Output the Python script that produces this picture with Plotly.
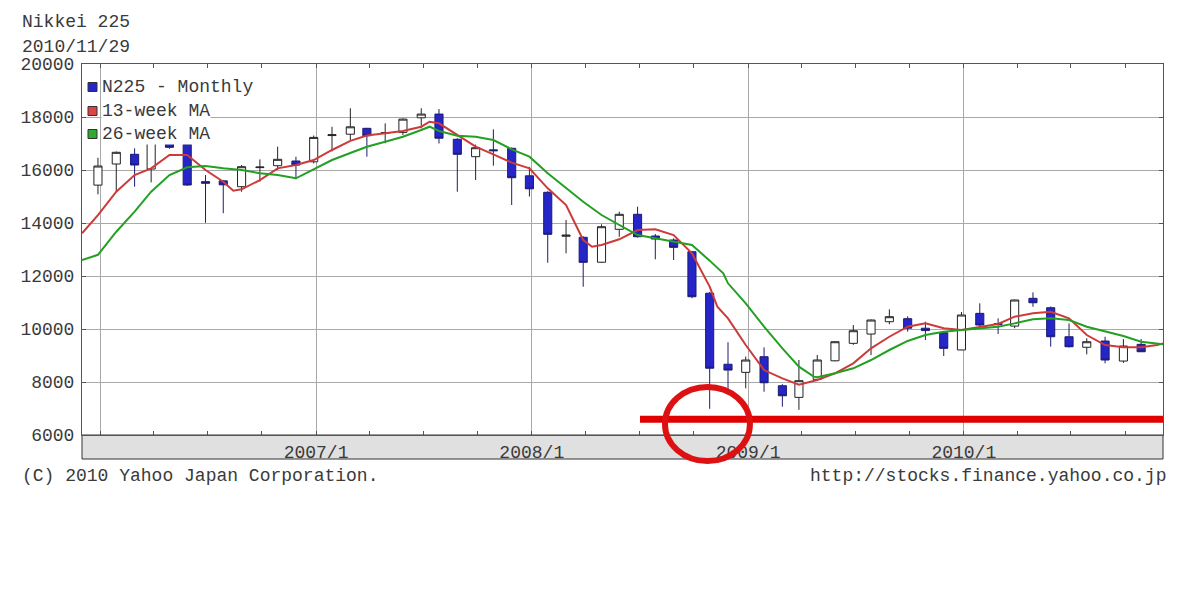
import plotly.graph_objects as go

# ---------------- data ----------------
candle_months = [
    "2005-12", "2006-01", "2006-02", "2006-03", "2006-04", "2006-05", "2006-06", "2006-07",
    "2006-08", "2006-09", "2006-10", "2006-11", "2006-12", "2007-01", "2007-02", "2007-03",
    "2007-04", "2007-05", "2007-06", "2007-07", "2007-08", "2007-09", "2007-10", "2007-11",
    "2007-12", "2008-01", "2008-02", "2008-03", "2008-04", "2008-05", "2008-06", "2008-07",
    "2008-08", "2008-09", "2008-10", "2008-11", "2008-12", "2009-01", "2009-02", "2009-03",
    "2009-04", "2009-05", "2009-06", "2009-07", "2009-08", "2009-09", "2009-10", "2009-11",
    "2009-12", "2010-01", "2010-02", "2010-03", "2010-04", "2010-05", "2010-06", "2010-07",
    "2010-08", "2010-09", "2010-10",
]
open_ = [15430, 16226, 16592, 16037, 17068, 16969, 15560, 15590,
         15370, 16090, 16162, 16339, 16310, 17300, 17350, 17573,
         17390, 17420, 17970, 18110, 17158, 16502, 16760, 16818,
         15780, 15158, 13500, 13460, 12520, 13762, 14328, 13509,
         13358, 12916, 11350, 8670, 8364, 8954, 7859, 7420,
         8100, 8800, 9459, 9810, 10275, 10390, 10030, 9860,
         9210, 10590, 10200, 10110, 11157, 10803, 9708, 9310,
         9546, 8791, 9421]
high = [16460, 16700, 16818, 17100, 17160, 17010, 15810, 15620,
        16190, 16400, 16880, 16500, 17300, 17630, 18330, 17590,
        17760, 17950, 18330, 18300, 17200, 16960, 17536, 16850,
        16120, 15200, 14113, 13500, 13950, 14426, 14615, 13584,
        13420, 12950, 11400, 9500, 8960, 9308, 7920, 8830,
        9020, 9540, 10150, 10360, 10742, 10480, 10275, 9880,
        10640, 10969, 10402, 11110, 11384, 10850, 10213, 9648,
        9708, 9621, 9621]
low = [15080, 15180, 15369, 15535, 16800, 15400, 14010, 14370,
       15180, 15560, 16000, 15650, 16250, 16700, 17130, 16502,
       17010, 17320, 17570, 17000, 15181, 15622, 16162, 14679,
       15000, 12501, 12856, 11595, 12500, 13482, 13450, 12630,
       12603, 11160, 6990, 7700, 7761, 7633, 7067, 6950,
       8050, 8780, 9400, 9018, 10180, 9900, 9584, 8980,
       9200, 10030, 9810, 10030, 10840, 9331, 9300, 9044,
       8705, 8720, 9130]
close = [16150, 16668, 16188, 17068, 16856, 15433, 15500, 15440,
         16125, 16110, 16403, 16188, 17230, 17330, 17630, 17294,
         17410, 17920, 18110, 17200, 16592, 16841, 16728, 15709,
         15290, 13573, 13540, 12516, 13860, 14328, 13482, 13396,
         13082, 11218, 8520, 8450, 8829, 7972, 7481, 8050,
         8830, 9520, 9935, 10339, 10464, 10030, 9940, 9270,
         10527, 10150, 10180, 11094, 10991, 9708, 9331, 9520,
         8829, 9357, 9142]

ma13_dates = [
    "2005-12-01", "2005-12-28", "2006-01-28", "2006-02-28", "2006-03-28", "2006-04-28",
    "2006-05-28", "2006-06-28", "2006-07-28", "2006-08-14", "2006-08-28", "2006-09-28",
    "2006-10-28", "2006-11-28", "2006-12-28", "2007-01-28", "2007-02-28", "2007-03-28",
    "2007-04-28", "2007-05-28", "2007-06-28", "2007-07-12", "2007-07-28", "2007-08-28",
    "2007-09-28", "2007-10-28", "2007-11-28", "2007-12-28", "2008-01-28", "2008-02-28",
    "2008-03-28", "2008-04-12", "2008-04-28", "2008-05-28", "2008-06-28", "2008-07-28",
    "2008-08-28", "2008-09-28", "2008-10-20", "2008-10-28", "2008-11-10", "2008-11-28",
    "2008-12-28", "2009-01-16", "2009-01-28", "2009-02-28", "2009-03-28", "2009-04-28",
    "2009-05-28", "2009-06-28", "2009-07-28", "2009-08-28", "2009-09-28", "2009-10-28",
    "2009-11-28", "2009-12-28", "2010-01-28", "2010-02-28", "2010-03-28", "2010-04-28",
    "2010-05-28", "2010-06-28", "2010-07-28", "2010-08-28", "2010-09-28", "2010-10-28",
    "2010-11-24", "2010-12-04",
]
ma13 = [
    13610, 14300, 15181, 15811, 16063, 16566,
    16566, 16000, 15558, 15218, 15271, 15622,
    16063, 16188, 16377, 16755, 17100, 17300,
    17385, 17471, 17634, 17822, 17762, 17320,
    16879, 16592, 16280, 16063, 15309, 14679,
    13358, 13105, 13169, 13384, 13735, 13760,
    13546, 12856, 11973, 11600, 10840, 10402,
    9395, 8829, 8451, 8138, 7900, 8074,
    8327, 8705, 9270, 9708, 10088, 10213,
    10025, 9961, 10088, 10188, 10464, 10591,
    10652, 10402, 9772, 9395, 9308, 9308,
    9395, 9459,
]

ma26_dates = [
    "2005-12-01", "2005-12-28", "2006-01-28", "2006-02-28", "2006-03-28", "2006-04-28",
    "2006-05-28", "2006-06-28", "2006-07-28", "2006-08-28", "2006-09-28", "2006-10-28",
    "2006-11-28", "2006-12-28", "2007-01-28", "2007-02-28", "2007-03-28", "2007-04-28",
    "2007-05-28", "2007-06-28", "2007-07-12", "2007-07-28", "2007-08-28", "2007-09-28",
    "2007-10-28", "2007-11-28", "2007-12-28", "2008-01-28", "2008-02-28", "2008-03-28",
    "2008-04-28", "2008-05-28", "2008-06-28", "2008-07-28", "2008-08-28", "2008-09-28",
    "2008-10-28", "2008-11-20", "2008-11-28", "2008-12-28", "2009-01-28", "2009-02-28",
    "2009-03-28", "2009-04-22", "2009-04-28", "2009-05-28", "2009-06-28", "2009-07-28",
    "2009-08-28", "2009-09-28", "2009-10-28", "2009-11-28", "2009-12-28", "2010-01-28",
    "2010-02-28", "2010-03-28", "2010-04-28", "2010-05-28", "2010-06-28", "2010-07-28",
    "2010-08-28", "2010-09-28", "2010-10-28", "2010-11-24", "2010-12-04",
]
ma26 = [
    12603, 12800, 13671, 14426, 15181, 15811,
    16101, 16151, 16063, 16000, 15875, 15811,
    15686, 16030, 16377, 16640, 16879, 17068,
    17256, 17509, 17634, 17471, 17294, 17256,
    17132, 16780, 16502, 15875, 15309, 14803,
    14301, 13924, 13546, 13422, 13294, 13169,
    12580, 12101, 11724, 10969, 10088, 9270,
    8579, 8201, 8176, 8327, 8516, 8829,
    9207, 9550, 9772, 9898, 9961, 10025,
    10088, 10213, 10364, 10402, 10339, 10088,
    9898, 9735, 9520, 9433, 9421,
]

year_ticks = ["2006-01-01", "2007-01-01", "2008-01-01", "2009-01-01", "2010-01-01"]
year_labels = ["", "2007/1", "2008/1", "2009/1", "2010/1"]
y_ticks = [6000, 8000, 10000, 12000, 14000, 16000, 18000, 20000]
y_labels = ["6000", "8000", "10000", "12000", "14000", "16000", "18000", "20000"]
legend_names = ["N225 - Monthly", "13-week MA", "26-week MA"]

# ---------------- figure ----------------
FONT = "Liberation Mono, DejaVu Sans Mono, monospace"
TXT = "#3a3a3a"
BLUE = "#2626c8"
RED = "#cc3a3a"
GREEN = "#23a023"
legend_colors = [BLUE, "#dd4444", "#2faa2f"]

candle_x = [m + "-28" for m in candle_months]

fig = go.Figure()
fig.add_trace(go.Candlestick(
    x=candle_x, open=open_, high=high, low=low, close=close, name=legend_names[0],
    increasing=dict(fillcolor="white", line=dict(color="#222222", width=1)),
    decreasing=dict(fillcolor=BLUE, line=dict(color="#1c1c70", width=1)),
    whiskerwidth=0, showlegend=False, hoverinfo="skip",
))
fig.add_trace(go.Scatter(x=ma13_dates, y=ma13, mode="lines", name=legend_names[1],
                         line=dict(color=RED, width=2), showlegend=False))
fig.add_trace(go.Scatter(x=ma26_dates, y=ma26, mode="lines", name=legend_names[2],
                         line=dict(color=GREEN, width=2), showlegend=False))

# ---- hand-built legend (square swatch + label, like the reference) ----
H = 371.0   # plot height in px
W = 1081.0  # plot width in px
shapes = [
    # grey band under the plot holding the date labels
    dict(type="rect", xref="paper", yref="paper", x0=0, x1=1, y0=-0.0647, y1=0,
         fillcolor="#e0e0e0", line=dict(color="#333333", width=1), layer="below"),
]
annotations = []
row_px = [87, 111, 134]
for name, col, ypx in zip(legend_names, legend_colors, row_px):
    yc = (435 - ypx) / H
    shapes.append(dict(type="rect", xref="paper", yref="paper",
                       x0=(88 - 82) / W, x1=(97 - 82) / W,
                       y0=yc - 4.5 / H, y1=yc + 4.5 / H,
                       fillcolor=col, line=dict(color="#333333", width=1), layer="above"))
    annotations.append(dict(text=name, xref="paper", yref="paper", x=(101 - 82) / W, y=yc,
                            xanchor="left", yanchor="middle", showarrow=False,
                            bgcolor="white", borderpad=0,
                            font=dict(family=FONT, size=18, color=TXT)))

# red hand-drawn marks
shapes += [
    dict(type="line", xref="paper", yref="paper", x0=0.5162, x1=1.0, y0=0.0423, y1=0.0423,
         line=dict(color="#e00000", width=7), layer="above"),
    dict(type="circle", xref="paper", yref="paper", x0=0.5393, x1=0.6179,
         y0=-0.0701, y1=0.1294, line=dict(color="#dd1111", width=6), layer="above"),
]

annotations += [
    dict(text="Nikkei 225", xref="paper", yref="paper", x=-0.0574, y=1.1132,
         xanchor="left", yanchor="middle", showarrow=False,
         font=dict(family=FONT, size=18, color=TXT)),
    dict(text="2010/11/29", xref="paper", yref="paper", x=-0.0574, y=1.0458,
         xanchor="left", yanchor="middle", showarrow=False,
         font=dict(family=FONT, size=18, color=TXT)),
    dict(text="(C) 2010 Yahoo Japan Corporation.", xref="paper", yref="paper",
         x=-0.0574, y=-0.1105, xanchor="left", yanchor="middle", showarrow=False,
         font=dict(family=FONT, size=18, color=TXT)),
    dict(text="http://stocks.finance.yahoo.co.jp", xref="paper", yref="paper",
         x=1.0046, y=-0.1105, xanchor="right", yanchor="middle", showarrow=False,
         font=dict(family=FONT, size=18, color=TXT)),
]

fig.update_layout(
    width=1200, height=603,
    margin=dict(l=82, r=37, t=64, b=168),
    paper_bgcolor="white", plot_bgcolor="white",
    font=dict(family=FONT, size=18, color=TXT),
    showlegend=False,
    xaxis=dict(
        type="date", range=["2005-12-01", "2010-12-04"],
        rangeslider=dict(visible=False),
        tickvals=year_ticks, ticktext=year_labels,
        ticks="inside", ticklen=4, tickcolor="#555555",
        minor=dict(dtick="M3", tick0="2006-01-01", ticks="inside", ticklen=4,
                   tickcolor="#555555", showgrid=False),
        showgrid=True, gridcolor="#a9a9a9", gridwidth=1,
        showline=True, linecolor="#555555", linewidth=1, mirror="allticks",
        zeroline=False, tickfont=dict(family=FONT, size=18, color=TXT),
    ),
    yaxis=dict(
        range=[6000, 20000], tickvals=y_ticks, ticktext=y_labels,
        ticks="inside", ticklen=4, tickcolor="#555555",
        showgrid=True, gridcolor="#a9a9a9", gridwidth=1,
        showline=True, linecolor="#555555", linewidth=1, mirror="allticks",
        zeroline=False, ticklabelstandoff=3,
        tickfont=dict(family=FONT, size=18, color=TXT),
    ),
    shapes=shapes,
    annotations=annotations,
)

fig.write_html("out.html")
